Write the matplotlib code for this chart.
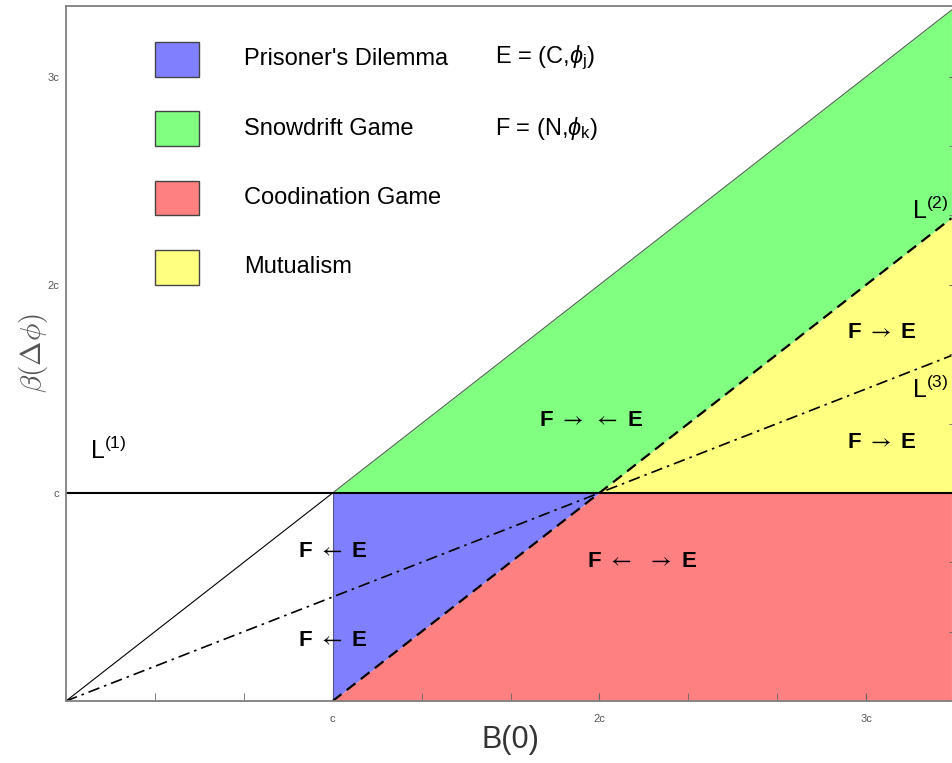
import matplotlib
matplotlib.use("Agg")
import matplotlib.pyplot as plt
from matplotlib.patches import Rectangle

plt.rcParams['font.family'] = ['Liberation Sans', 'DejaVu Sans']
plt.rcParams['mathtext.fontset'] = 'custom'
plt.rcParams['mathtext.rm'] = 'Liberation Sans'
plt.rcParams['mathtext.it'] = 'Liberation Sans:italic'
plt.rcParams['mathtext.bf'] = 'Liberation Sans:bold'
plt.rcParams['mathtext.sf'] = 'STIXGeneral'

# c = 1, everything in units of c
c = 1.0
xmax = 3.32
ymax = 3.34

# region boundaries (x points and lower / upper curves)
blue_x = [1, 2]
blue_lo = [0, 1]
blue_hi = [1, 1]

red_x = [1, 2, xmax]
red_lo = [0, 0, 0]
red_hi = [0, 1, 1]

green_x = [1, 2, xmax]
green_lo = [1, 1, xmax - 1]
green_hi = [1, 2, xmax]

yellow_x = [2, xmax]
yellow_lo = [1, 1]
yellow_hi = [1, xmax - 1]

# lines
diag_x = [0, 1]          # y = x from origin to (c, c)
diag_y = [0, 1]
L1_x = [0, xmax]         # y = c
L1_y = [1, 1]
L2_x = [1, xmax]         # y = x - c
L2_y = [0, xmax - 1]
L3_x = [0, xmax]         # y = x / 2
L3_y = [0, xmax / 2]

colors = {'blue': '#8080ff', 'green': '#80ff80', 'red': '#ff8080', 'yellow': '#ffff80'}
legend_labels = ["Prisoner's Dilemma", "Snowdrift Game", "Coodination Game", "Mutualism"]
legend_colors = [colors['blue'], colors['green'], colors['red'], colors['yellow']]

# arrow labels: (x, y, text)
R = r'\mathsf{\rightarrow}'
L = r'\mathsf{\leftarrow}'
flow_labels = [
    (1.0, 0.72, r'$\mathbf{F}\ ' + L + r'\ \mathbf{E}$'),
    (1.0, 0.29, r'$\mathbf{F}\ ' + L + r'\ \mathbf{E}$'),
    (1.97, 1.35, r'$\mathbf{F}\ ' + R + r'\ ' + L + r'\ \mathbf{E}$'),
    (2.16, 0.67, r'$\mathbf{F}\ ' + L + r'\ \ ' + R + r'\ \mathbf{E}$'),
    (3.06, 1.77, r'$\mathbf{F}\ ' + R + r'\ \mathbf{E}$'),
    (3.06, 1.24, r'$\mathbf{F}\ ' + R + r'\ \mathbf{E}$'),
]

fig = plt.figure(figsize=(9.52, 7.63), dpi=100)
ax = fig.add_axes([66 / 952, 62 / 763, 889 / 952, 695 / 763])

ax.fill_between(blue_x, blue_lo, blue_hi, color=colors['blue'], lw=0)
ax.fill_between(red_x, red_lo, red_hi, color=colors['red'], lw=0)
ax.fill_between(green_x, green_lo, green_hi, color=colors['green'], lw=0)
ax.fill_between(yellow_x, yellow_lo, yellow_hi, color=colors['yellow'], lw=0)

# blue left edge and green upper edge
ax.plot([1, 1], [0, 1], color='#555588', lw=0.8)
ax.plot([1, xmax], [1, xmax], color='#446644', lw=0.8)
ax.plot(diag_x, diag_y, color='black', lw=0.8)
ax.plot(L1_x, L1_y, color='black', lw=1.5)
ax.plot(L2_x, L2_y, color='black', lw=1.6, ls=(0, (5, 3)))
ax.plot(L3_x, L3_y, color='black', lw=1.2, ls=(0, (7, 3, 1.5, 3)))

for x, y, s in flow_labels:
    ax.text(x, y, s, ha='center', va='center', fontsize=16)

ax.text(0.09, 1.14, r'L$^{(1)}$', fontsize=18, ha='left', va='bottom')
ax.text(3.31, 2.29, r'L$^{(2)}$', fontsize=18, ha='right', va='bottom')
ax.text(3.31, 1.43, r'L$^{(3)}$', fontsize=18, ha='right', va='bottom')

ax.text(1.61, 3.09, r'E = (C,$\phi_{\rm j}$)', fontsize=17, va='center')
ax.text(1.61, 2.75, r'F = (N,$\phi_{\rm k}$)', fontsize=17, va='center')

# legend swatches, in data units (c)
for i, (lab, col) in enumerate(zip(legend_labels, legend_colors)):
    y0 = 3.0 - i / 3
    ax.add_patch(Rectangle((1 / 3, y0), 1 / 6, 1 / 6, facecolor=col,
                           edgecolor='#444444', lw=1.0))
    ax.text(0.668, y0 + 1 / 12, lab, fontsize=17, va='center', ha='left')

ax.set_xlim(0, xmax)
ax.set_ylim(0, ymax)
ax.set_xticks([1, 2, 3])
ax.set_xticklabels(['c', '2c', '3c'])
ax.set_xticks([1 / 3, 2 / 3, 4 / 3, 5 / 3, 7 / 3, 8 / 3, 10 / 3], minor=True)
ax.set_yticks([1, 2, 3])
ax.set_yticklabels(['c', '2c', '3c'])
ax.set_yticks([1 / 3, 2 / 3, 4 / 3, 5 / 3, 7 / 3, 8 / 3], minor=True)
ax.tick_params(axis='x', which='both', direction='in', length=6, color='#666666',
               labelsize=8, labelcolor='#555555', pad=9)
ax.tick_params(axis='y', which='both', direction='in', left=False, right=True,
               length=4, color='#666666', labelsize=8, labelcolor='#555555', pad=5)
for sp in ax.spines.values():
    sp.set_color('#808080')
    sp.set_linewidth(1.3)

ax.set_xlabel('B(0)', fontsize=22, color='#333333')
ax.set_ylabel(r'$\beta(\Delta\phi)$', fontsize=21, color='#555555', math_fontfamily='cm')
ax.yaxis.set_label_coords(-0.018, 0.5)
ax.xaxis.set_label_coords(0.5, -0.035)

fig.savefig('out.png', dpi=100)
